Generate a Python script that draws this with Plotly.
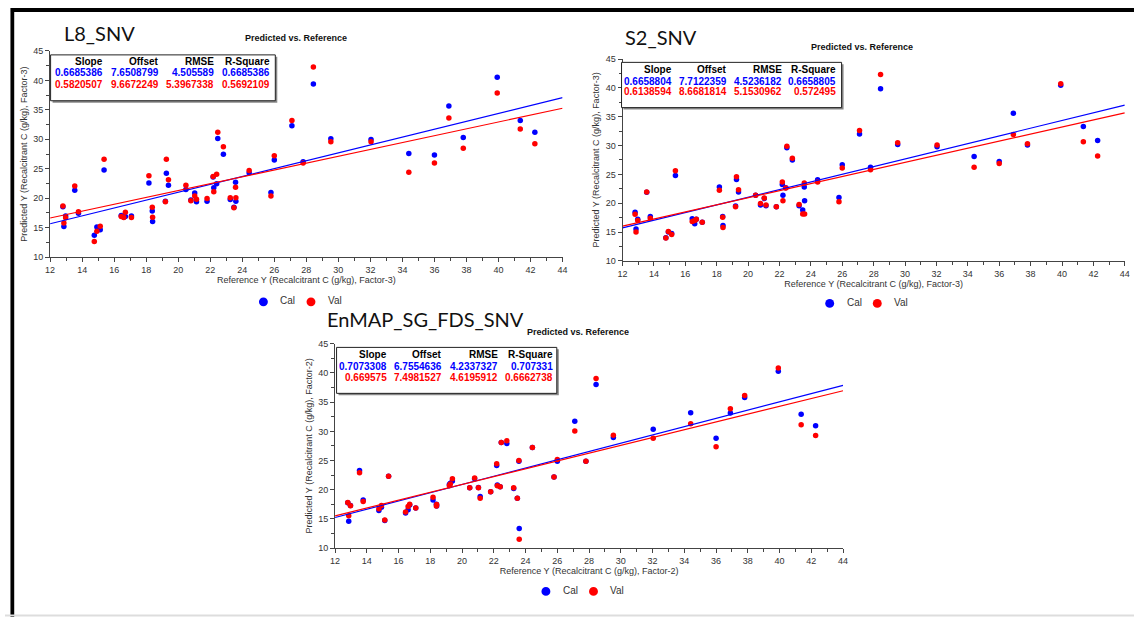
import plotly.graph_objects as go

# ---------------- data ----------------
ref_x = [12.80, 12.86, 12.97, 13.54, 13.77, 14.76, 14.92, 15.13, 15.37, 16.44, 16.60, 16.70,
         17.08, 18.17, 18.38, 18.40, 19.20, 19.26, 19.39, 20.48, 20.79, 21.03, 21.14, 21.80,
         22.18, 22.22, 22.40, 22.47, 22.82, 23.25, 23.48, 23.58, 23.60, 24.43, 25.79, 26.00,
         27.10, 27.80, 28.44, 29.53, 32.04, 34.40, 36.00, 36.90, 37.80, 39.92, 41.36, 42.27]

l8_cal = [18.57, 15.20, 17.00, 21.35, 17.45, 13.73, 15.12, 14.67, 24.80, 17.07, 16.80, 16.90,
          17.00, 22.57, 17.84, 16.06, 19.50, 24.24, 22.20, 21.50, 19.70, 20.90, 19.40, 19.50,
          23.60, 21.80, 22.46, 30.14, 27.47, 19.80, 18.46, 22.70, 19.50, 24.35, 20.96, 26.50,
          32.30, 26.20, 39.40, 30.09, 29.97, 27.60, 27.36, 35.65, 30.30, 40.55, 33.20, 31.20]
l8_val = [18.68, 15.80, 16.70, 22.07, 17.73, 12.67, 14.40, 15.23, 26.64, 16.90, 16.73, 17.62,
          16.73, 23.80, 18.46, 16.79, 19.40, 26.64, 23.13, 22.20, 19.57, 20.40, 19.85, 19.96,
          23.70, 21.10, 24.08, 31.20, 28.75, 20.07, 18.40, 21.85, 20.10, 24.70, 20.40, 27.20,
          33.20, 25.97, 42.27, 29.60, 29.60, 24.40, 25.97, 33.60, 28.47, 37.88, 31.76, 29.25]

s2_cal = [18.42, 15.52, 17.20, 21.90, 17.68, 14.00, 15.00, 14.72, 24.80, 17.28, 16.43, 17.20,
          16.70, 22.80, 17.68, 16.14, 19.50, 24.10, 21.95, 21.38, 19.67, 20.80, 19.56, 19.39,
          23.26, 21.38, 22.70, 29.63, 27.50, 19.56, 18.82, 22.80, 20.41, 24.05, 20.98, 26.67,
          32.00, 26.22, 39.88, 30.20, 29.80, 28.10, 27.24, 35.60, 30.09, 40.45, 33.30, 30.88]
s2_val = [18.08, 15.00, 17.00, 21.95, 17.40, 13.98, 15.10, 14.55, 25.65, 16.83, 17.00, 17.22,
          16.70, 22.23, 17.57, 15.80, 19.39, 24.60, 22.35, 21.38, 19.96, 20.90, 19.67, 19.39,
          23.66, 20.41, 22.65, 29.90, 27.80, 19.79, 18.14, 23.49, 18.14, 23.66, 20.24, 26.10,
          32.60, 25.82, 42.32, 30.49, 30.09, 26.22, 26.90, 31.90, 30.30, 40.73, 30.66, 28.20]

en_cal = [17.75, 14.60, 17.30, 23.31, 18.26, 16.46, 17.00, 14.75, 22.30, 16.00, 16.57, 17.40,
          16.85, 18.26, 17.50, 17.20, 20.90, 21.10, 21.50, 20.34, 21.90, 20.40, 18.82, 19.66,
          24.16, 20.79, 20.50, 28.10, 27.92, 20.22, 18.54, 24.89, 13.37, 27.25, 22.19, 24.89,
          31.74, 24.89, 38.03, 28.93, 30.34, 33.20, 28.82, 33.15, 35.79, 40.28, 32.92, 30.96]
en_val = [17.81, 15.56, 17.25, 22.92, 17.98, 16.74, 17.30, 14.80, 22.30, 16.18, 17.13, 17.53,
          16.85, 18.71, 17.20, 17.45, 20.67, 21.00, 21.90, 20.34, 22.00, 20.34, 18.54, 19.66,
          24.44, 20.67, 20.50, 28.10, 28.37, 20.34, 18.54, 25.00, 11.52, 27.25, 22.19, 25.17,
          30.06, 24.89, 39.04, 29.33, 28.82, 31.29, 27.36, 33.88, 36.12, 40.84, 31.12, 29.27]

panel_names = ["L8_SNV", "S2_SNV", "EnMAP_SG_FDS_SNV"]
factors = ["Factor-3", "Factor-3", "Factor-2"]
cal_series = [l8_cal, s2_cal, en_cal]
val_series = [l8_val, s2_val, en_val]

# statistics table (Slope, Offset, RMSE, R-Square)
stat_headers = ["Slope", "Offset", "RMSE", "R-Square"]
l8_cal_stats = ["0.6685386", "7.6508799", "4.505589", "0.6685386"]
l8_val_stats = ["0.5820507", "9.6672249", "5.3967338", "0.5692109"]
s2_cal_stats = ["0.6658804", "7.7122359", "4.5236182", "0.6658805"]
s2_val_stats = ["0.6138594", "8.6681814", "5.1530962", "0.572495"]
en_cal_stats = ["0.7073308", "6.7554636", "4.2337327", "0.707331"]
en_val_stats = ["0.669575", "7.4981527", "4.6195912", "0.6662738"]
cal_stats = [l8_cal_stats, s2_cal_stats, en_cal_stats]
val_stats = [l8_val_stats, s2_val_stats, en_val_stats]

x_range = [12, 44]
y_range = [10, 45]

# ---------------- layout geometry (pixels) ----------------
W, H = 1139, 622
BLUE, RED = "#0000FF", "#FF0000"
AX = "#444444"
TXT = "#333333"

geom = [
    dict(ax0=45.5, ax1=562.5, ay0=46.7, ay1=256.3,
         title_xy=(58, 28), sub_xy=(294, 34),
         box=(46, 50.7, 272.7, 97.3), cols=[100.7, 157.3, 212.7, 269.3], rows=[57.3, 69.0, 81.0],
         leg=(260.7, 301.7)),
    dict(ax0=623.0, ax1=1129.7, ay0=55.0, ay1=260.0,
         title_xy=(623, 33), sub_xy=(865, 42.7),
         box=(622, 58.3, 844, 104.3), cols=[675.3, 730.7, 786.3, 840.7], rows=[65.7, 77.3, 88.3],
         leg=(832, 303.3)),
    dict(ax0=333.0, ax1=845.5, ay0=344.3, ay1=552.0,
         title_xy=(323, 319), sub_xy=(578.5, 332.7),
         box=(334.5, 348, 556.7, 394.7), cols=[387.3, 443.3, 499.0, 554.7], rows=[355.3, 367.3, 378.7],
         leg=(545.7, 596.0)),
]

def fx(p):
    return p / W

def fy(p):
    return 1 - p / H

fig = go.Figure()
shapes = []
annotations = []

for i in range(3):
    g = geom[i]
    xa = "x" if i == 0 else f"x{i+1}"
    ya = "y" if i == 0 else f"y{i+1}"
    fig.add_trace(go.Scatter(x=ref_x, y=cal_series[i], mode="markers", name="Cal",
                             marker=dict(color=BLUE, size=5.5), xaxis=xa, yaxis=ya,
                             showlegend=False))
    fig.add_trace(go.Scatter(x=ref_x, y=val_series[i], mode="markers", name="Val",
                             marker=dict(color=RED, size=5.5), xaxis=xa, yaxis=ya,
                             showlegend=False))
    for stats, col in ((cal_stats[i], BLUE), (val_stats[i], RED)):
        slope, offset = float(stats[0]), float(stats[1])
        fig.add_trace(go.Scatter(x=x_range, y=[offset + slope * v for v in x_range],
                                 mode="lines", line=dict(color=col, width=1.2),
                                 xaxis=xa, yaxis=ya, showlegend=False, hoverinfo="skip"))

    axis_common = dict(showline=True, linecolor=AX, linewidth=1, showgrid=False, zeroline=False,
                       ticks="outside", ticklen=4, tickcolor=AX, tickwidth=1,
                       tickfont=dict(family="Liberation Sans", size=9, color=TXT))
    xkey = "xaxis" if i == 0 else f"xaxis{i+1}"
    ykey = "yaxis" if i == 0 else f"yaxis{i+1}"
    fig.update_layout(**{
        xkey: dict(axis_common, domain=[fx(g["ax0"]), fx(g["ax1"])], anchor=ya,
                   range=x_range, tickmode="linear", tick0=12, dtick=2,
                   minor=dict(dtick=1, ticks="outside", ticklen=3, tickcolor=AX, showgrid=False),
                   title=dict(text=f"Reference Y (Recalcitrant C (g/kg), {factors[i]})",
                              font=dict(family="Liberation Sans", size=9, color=TXT), standoff=2)),
        ykey: dict(axis_common, domain=[fy(g["ay1"]), fy(g["ay0"])], anchor=xa,
                   range=y_range, tickmode="linear", tick0=10, dtick=5,
                   minor=dict(dtick=2.5, ticks="outside", ticklen=3, tickcolor=AX, showgrid=False),
                   title=dict(text=f"Predicted Y (Recalcitrant C (g/kg), {factors[i]})",
                              font=dict(family="Liberation Sans", size=9, color=TXT), standoff=4)),
    })

    tx, ty = g["title_xy"]
    annotations.append(dict(x=fx(tx), y=fy(ty), xref="paper", yref="paper", xanchor="left",
                            yanchor="middle", showarrow=False, text=panel_names[i],
                            font=dict(family="Lato", size=20, color="#111111")))
    sx, sy = g["sub_xy"]
    annotations.append(dict(x=fx(sx), y=fy(sy), xref="paper", yref="paper", xanchor="center",
                            yanchor="middle", showarrow=False, text="<b>Predicted vs. Reference</b>",
                            font=dict(family="Liberation Sans", size=9, color="#111111")))

    bx0, by0, bx1, by1 = g["box"]
    shapes.append(dict(type="rect", xref="paper", yref="paper", x0=fx(bx0 + 2), x1=fx(bx1 + 2),
                       y0=fy(by1 + 2), y1=fy(by0 + 2), line=dict(width=0), fillcolor="#888888",
                       layer="above"))
    shapes.append(dict(type="rect", xref="paper", yref="paper", x0=fx(bx0), x1=fx(bx1),
                       y0=fy(by1), y1=fy(by0), line=dict(color="#222222", width=1),
                       fillcolor="white", layer="above"))
    for c in range(4):
        for r, (txt, col) in enumerate(((stat_headers[c], "#000000"),
                                        (cal_stats[i][c], BLUE),
                                        (val_stats[i][c], RED))):
            annotations.append(dict(x=fx(g["cols"][c]), y=fy(g["rows"][r]), xref="paper",
                                    yref="paper", xanchor="right", yanchor="middle",
                                    showarrow=False, text=f"<b>{txt}</b>",
                                    font=dict(family="Liberation Sans", size=10, color=col)))

    lx, ly = g["leg"]
    for k, (lab, col) in enumerate((("Cal", BLUE), ("Val", RED))):
        cx = lx + 48 * k
        shapes.append(dict(type="circle", xref="paper", yref="paper",
                           x0=fx(cx - 4.5), x1=fx(cx + 4.5), y0=fy(ly + 4.5), y1=fy(ly - 4.5),
                           fillcolor=col, line=dict(width=0)))
        annotations.append(dict(x=fx(cx + 15), y=fy(ly - 1), xref="paper", yref="paper",
                                xanchor="left", yanchor="middle", showarrow=False, text=lab,
                                font=dict(family="Liberation Sans", size=10, color=TXT)))

# outer frame
shapes.append(dict(type="rect", xref="paper", yref="paper", x0=fx(6), x1=1.0, y0=fy(7), y1=fy(3),
                   fillcolor="black", line=dict(width=0)))
shapes.append(dict(type="rect", xref="paper", yref="paper", x0=fx(5.5), x1=fx(9.3), y0=0.0, y1=fy(3),
                   fillcolor="black", line=dict(width=0)))
shapes.append(dict(type="line", xref="paper", yref="paper", x0=0, x1=1, y0=fy(620.5), y1=fy(620.5),
                   line=dict(color="#DDDDDD", width=2)))

fig.update_layout(width=W, height=H, margin=dict(l=0, r=0, t=0, b=0),
                  paper_bgcolor="white", plot_bgcolor="white",
                  shapes=shapes, annotations=annotations, showlegend=False)

fig.write_html("out.html", config={"displayModeBar": False},
               post_script="document.body.style.margin='0';document.body.style.overflow='hidden';")
